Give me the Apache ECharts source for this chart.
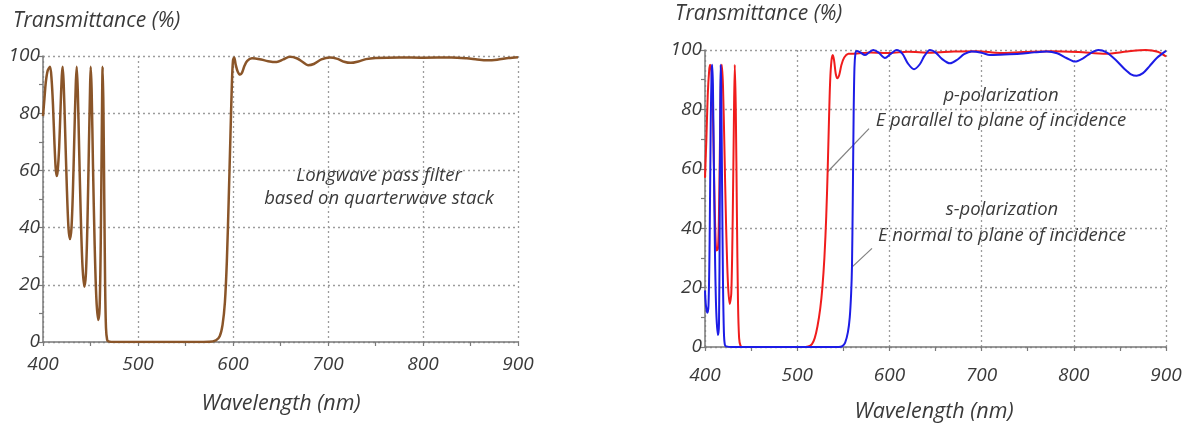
<!DOCTYPE html>
<html>
<head>
<meta charset="utf-8">
<title>Transmittance spectra</title>
<script src="https://cdn.jsdelivr.net/npm/echarts@6/dist/echarts.min.js"></script>
<style>
  html, body { margin: 0; padding: 0; background: #ffffff; }
  #chart { width: 1189px; height: 426px; }
</style>
</head>
<body>
<div id="chart"></div>
<script>
// Wavelength range (nm) and transmittance range (%) shared by both panels
const wlMin = 400, wlMax = 900, wlStep = 100;
const tMin = 0, tMax = 100, tStep = 20;

// Longwave pass filter built from a quarterwave stack: [wavelength nm, T %]
const longpass = [
  [400, 79], [401.5, 85], [403, 91], [405, 95], [407.4, 96.2], [409, 92], [410.5, 83],
  [412, 70], [413.3, 61], [414.4, 58], [415.5, 60], [417, 68], [418.5, 82], [419.8, 93],
  [420.7, 96.2], [421.8, 90], [423.2, 75], [425, 55], [426.8, 40], [428.4, 36], [430, 40],
  [431.5, 53], [433, 72], [434.5, 90], [435.5, 96.2], [436.6, 88], [438, 68], [439.7, 45],
  [441.5, 27], [443.5, 19.3], [445.2, 24], [446.8, 42], [448.3, 68], [449.5, 88],
  [450.2, 96.2], [451.2, 88], [452.6, 62], [454.3, 35], [456.2, 15], [458.2, 7.7],
  [459.6, 12], [460.8, 35], [461.8, 70], [462.8, 96.2], [463.6, 82], [464.5, 50],
  [465.4, 20], [466.3, 5], [467.5, 0.8], [469, 0.2], [475, 0], [540, 0], [575, 0.1],
  [582, 0.6], [586, 2], [589, 6], [591.5, 14], [593.5, 28], [595.5, 50], [597.3, 72],
  [598.8, 90], [600, 98.5], [601.3, 99.5], [602.8, 97], [605, 94.5], [607.5, 93.5],
  [609.5, 94.2], [612, 96.5], [615, 98.3], [620, 99.2], [628, 98.9], [637, 98.2],
  [646, 97.9], [653, 98.8], [660, 99.7], [667, 99.2], [673, 98], [679, 96.8], [685, 97.2],
  [693, 98.8], [702, 99.5], [710, 99], [717, 98], [724, 97.6], [732, 98.1], [740, 98.9],
  [750, 99.3], [775, 99.5], [800, 99.4], [830, 99.5], [846, 99.2], [857, 98.8],
  [867, 98.5], [878, 98.7], [890, 99.3], [900, 99.6]
];

// p-polarization (E parallel to plane of incidence)
const pPol = [
  [400, 57], [401.5, 70], [403, 85], [404.5, 93], [405.5, 95], [407, 93], [408.5, 80],
  [410, 55], [411.3, 38], [412.5, 32.5], [414, 33], [415, 42], [416.2, 68], [417.3, 90],
  [418.2, 95], [419.5, 88], [421, 68], [422.8, 42], [424.8, 22], [426.8, 14.5],
  [428.5, 18], [430, 42], [431.3, 75], [432.3, 95], [433.4, 80], [434.6, 45], [435.8, 15],
  [437, 3], [438.5, 0.5], [441, 0], [505, 0], [512, 0.2], [516, 1], [519, 3], [522, 7],
  [525, 13], [527.3, 20], [529.5, 30], [531.5, 44], [533.1, 60], [534.6, 78],
  [535.8, 90], [537.2, 96.5], [538.6, 98.3], [540, 96.5], [541.8, 92], [543.5, 90.5],
  [545.5, 91.5], [548, 95], [551, 97.5], [555.5, 98.7], [565, 98.8], [580, 99.2],
  [600, 99.0], [620, 99.4], [645, 99.1], [670, 99.5], [695, 99.6], [720, 99.0],
  [745, 99.3], [775, 99.6], [805, 99.3], [835, 98.7], [858, 99.5], [878, 100],
  [891, 99.4], [900, 97.8]
];

// s-polarization (E normal to plane of incidence)
const sPol = [
  [400, 19], [401, 14], [402.5, 11.5], [403.8, 14], [405, 35], [406.2, 75], [407.2, 93],
  [407.8, 95], [408.6, 88], [409.6, 62], [410.8, 32], [412.2, 12], [414.1, 4], [415.2, 8],
  [416, 45], [416.6, 85], [417, 95], [417.6, 88], [418.5, 55], [419.5, 22], [420.5, 5],
  [421.5, 0.8], [423, 0.2], [430, 0], [545, 0], [549, 0.3], [552, 1.5], [555, 5],
  [557, 10], [558.5, 18], [559.4, 27], [560.3, 50], [561.2, 78], [562.1, 94], [563.2, 99],
  [564.5, 99.7], [568, 99.3], [573.5, 98.3], [578, 99.2], [582.5, 100], [588, 99.2],
  [595.2, 97.3], [601, 98.6], [607.9, 100], [614, 98.8], [620, 95.5], [626.7, 93.5],
  [633, 95.2], [638, 98], [644, 100], [650, 99.2], [657, 97], [665.7, 95.5], [674, 96.8],
  [681, 98.6], [689.3, 99.5], [700, 99.1], [709.1, 98.3], [720, 98.4], [741.6, 98.7],
  [757, 99.2], [770.6, 99.5], [782, 98.9], [792, 97.3], [801.3, 96.1], [810, 97.2],
  [818, 98.9], [826.6, 100], [835, 99.3], [845, 96.8], [855, 93.6], [862, 91.8],
  [868.2, 91.3], [875, 92.2], [882, 94.5], [890, 97.3], [900, 99.7]
];

// Leader lines from the captions to the curves they describe
const pLeader = [[577.9, 73.5], [533.1, 59]];
const sLeader = [[581.1, 33.2], [559.4, 26.9]];

const axisGray = '#7a7a7a';
const textGray = '#3a3a3a';
const italicFont = '"Open Sans", "DejaVu Sans", sans-serif';

function xAxisFor(gridIndex, labelMargin) {
  return {
    type: 'value', gridIndex: gridIndex,
    min: wlMin, max: wlMax, interval: wlStep,
    axisLine: { show: true, onZero: false, lineStyle: { color: axisGray, width: 1.5 } },
    axisTick: { show: true, length: 4, lineStyle: { color: axisGray, width: 1.2 } },
    minorTick: { show: true, splitNumber: 2, length: 4, lineStyle: { color: axisGray, width: 1.2 } },
    splitLine: { show: true, lineStyle: { color: '#9c9c9c', type: [2, 3], width: 1.3 } },
    axisLabel: {
      margin: labelMargin, color: textGray, fontSize: 19,
      fontStyle: 'italic', fontFamily: italicFont
    }
  };
}

function yAxisFor(gridIndex) {
  return {
    type: 'value', gridIndex: gridIndex,
    min: tMin, max: tMax, interval: tStep,
    axisLine: { show: true, onZero: false, lineStyle: { color: axisGray, width: 1.5 } },
    axisTick: { show: true, length: 4, lineStyle: { color: axisGray, width: 1.2 } },
    minorTick: { show: true, splitNumber: 2, length: 4, lineStyle: { color: axisGray, width: 1.2 } },
    splitLine: { show: true, lineStyle: { color: '#9c9c9c', type: [2, 3], width: 1.3 } },
    axisLabel: {
      margin: 3, color: textGray, fontSize: 19,
      fontStyle: 'italic', fontFamily: italicFont
    }
  };
}

function curve(name, data, color, width, axisIndex) {
  return {
    name: name, type: 'line', data: data,
    xAxisIndex: axisIndex, yAxisIndex: axisIndex,
    showSymbol: false, symbol: 'none', smooth: 0.3, silent: true,
    lineStyle: { color: color, width: width },
    clip: true
  };
}

function leader(data) {
  return {
    type: 'line', data: data, xAxisIndex: 1, yAxisIndex: 1,
    showSymbol: false, symbol: 'none', silent: true,
    lineStyle: { color: '#808080', width: 1.2 }
  };
}

function caption(text, x, y, size, align) {
  return {
    type: 'text', x: x, y: y, silent: true,
    style: {
      text: text, fill: textGray,
      font: 'italic ' + size + 'px ' + italicFont,
      align: align, textAlign: align,
      verticalAlign: 'middle', textVerticalAlign: 'middle'
    }
  };
}

const chart = echarts.init(document.getElementById('chart'), null, { renderer: 'canvas' });

chart.setOption({
  backgroundColor: '#ffffff',
  animation: false,
  grid: [
    { left: 43, top: 56, width: 475, height: 286 },
    { left: 705, top: 50, width: 461, height: 297 }
  ],
  xAxis: [xAxisFor(0, 13), xAxisFor(1, 19)],
  yAxis: [yAxisFor(0), yAxisFor(1)],
  series: [
    curve('Longwave pass filter', longpass, '#8a5529', 2.5, 0),
    leader(pLeader),
    leader(sLeader),
    curve('p-polarization', pPol, '#f01c1c', 2, 1),
    curve('s-polarization', sPol, '#1c1ce6', 2, 1)
  ],
  graphic: [
    caption('Transmittance (%)', 13, 21, 21, 'left'),
    caption('Transmittance (%)', 675, 14, 21, 'left'),
    caption('Wavelength (nm)', 281, 404, 21.5, 'center'),
    caption('Wavelength (nm)', 934, 412, 21.5, 'center'),
    caption('Longwave pass filter', 379, 176, 18.5, 'center'),
    caption('based on quarterwave stack', 379, 199, 18.5, 'center'),
    caption('p-polarization', 1001, 96, 18.5, 'center'),
    caption('E parallel to plane of incidence', 1001, 121, 18.5, 'center'),
    caption('s-polarization', 1002, 210, 18.5, 'center'),
    caption('E normal to plane of incidence', 1002, 236, 18.5, 'center')
  ]
});
</script>
</body>
</html>
